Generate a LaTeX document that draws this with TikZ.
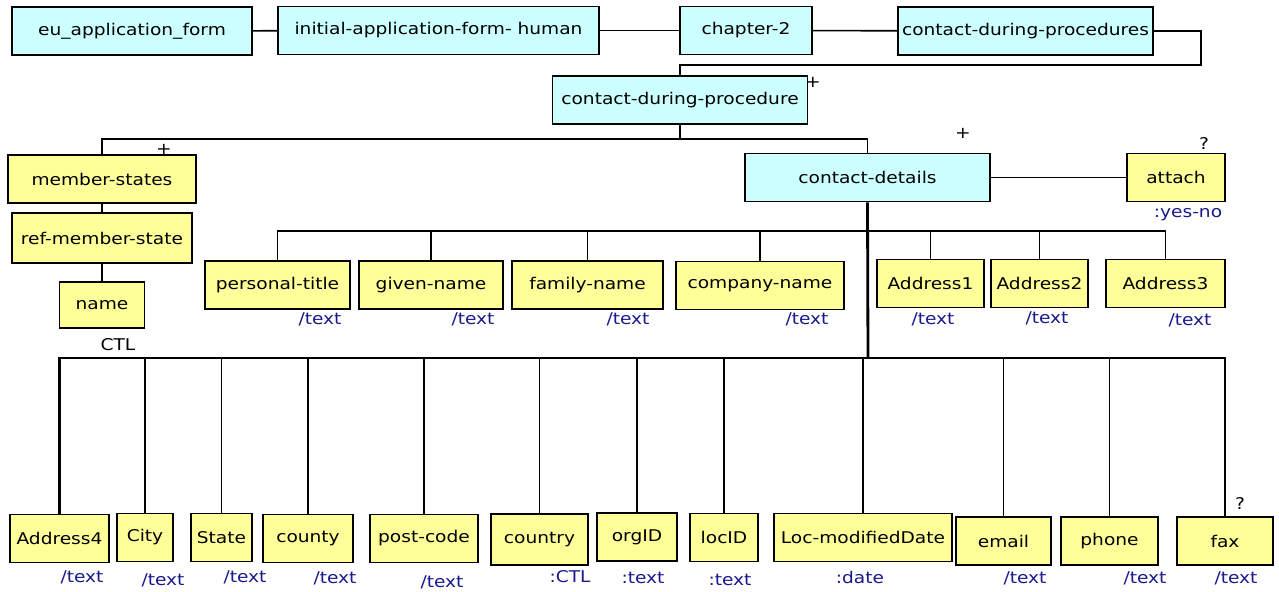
\documentclass[tikz,border=0pt]{standalone}
\usepackage{fontspec}
\setmainfont{DejaVu Sans}[FakeStretch=1.15]
\usepackage{xcolor}
\usepackage{tikz}
\usetikzlibrary{positioning}
\definecolor{groupcyan}{HTML}{CCFFFF}
\definecolor{leafyellow}{HTML}{FFFF99}
\definecolor{typeblue}{RGB}{25,25,140}
\tikzset{
  elem/.style={draw, line width=1.1pt, inner sep=0pt, minimum height=0.96cm,
    align=center, font=\fontsize{9.2}{10}\selectfont},
  group/.style={elem, fill=groupcyan},
  leaf/.style={elem, fill=leafyellow},
  bw/.style={minimum width=#1*0.02cm},
  dtype/.style={inner sep=0pt, text=typeblue, font=\fontsize{9.2}{10}\selectfont},
  occur/.style={inner sep=0pt, font=\fontsize{9.2}{10}\selectfont},
  link/.style={line width=0.9pt},
  trunk/.style={line width=1.6pt}
}

\begin{document}
\begin{tikzpicture}[x=0.02cm, y=-0.02cm]
    \useasboundingbox (0,0) rectangle (1279,592);
    % top chain
    \node[group, bw=240] (euform) at (132,31) {eu\_application\_form};
    \node[group, bw=321] (initial) at (438.5,30.5) {initial-application-form- human};
    \node[group, bw=132] (chapter) at (746,30.5) {chapter-2};
    \node[group, bw=255] (procs) at (1025.5,31) {contact-during-procedures};
    \node[group, bw=255] (proc) at (680,100) {contact-during-procedure};
    \node[occur] (proc-occ) at (813,82) {+};
    % second level
    \node[leaf, bw=188] (mstates) at (102,179) {member-states};
    \node[occur] (mstates-occ) at (164,149) {+};
    \node[leaf, bw=180, minimum height=1cm] (refstate) at (102,238) {ref-member-state};
    \node[leaf, bw=85, minimum height=0.92cm] (name) at (102,305) {name};
    \node[occur] (name-type) at (118,345) {CTL};
    \node[group, bw=245] (details) at (867.5,177.5) {contact-details};
    \node[occur] (details-occ) at (963,133) {+};
    \node[leaf, bw=98] (attach) at (1176,177.5) {attach};
    \node[occur] (attach-occ) at (1204,143) {?};
    \node[dtype] (attach-type) at (1188,215) {:yes-no};
    % middle row
    \node[leaf, bw=145] (ptitle) at (277.5,285) {personal-title};
    \node[leaf, bw=144] (gname) at (431,285) {given-name};
    \node[leaf, bw=151] (fname) at (587.5,285) {family-name};
    \node[leaf, bw=168] (cname) at (760,285.5) {company-name};
    \node[leaf, bw=107] (addr1) at (930.5,283.5) {Address1};
    \node[leaf, bw=97] (addr2) at (1039.5,283.5) {Address2};
    \node[leaf, bw=119] (addr3) at (1165.5,283.5) {Address3};
    \node[dtype] (ptitle-type) at (320,319) {/text};
    \node[dtype] (gname-type) at (473,319) {/text};
    \node[dtype] (fname-type) at (628,319) {/text};
    \node[dtype] (cname-type) at (807,319) {/text};
    \node[dtype] (addr1-type) at (933,319) {/text};
    \node[dtype] (addr2-type) at (1047,318) {/text};
    \node[dtype] (addr3-type) at (1190,320) {/text};
    % bottom row
    \node[leaf, bw=99] (addr4) at (59.5,538.5) {Address4};
    \node[leaf, bw=56] (city) at (145,537.5) {City};
    \node[leaf, bw=61] (state) at (221.5,537.5) {State};
    \node[leaf, bw=90] (county) at (308,538.5) {county};
    \node[leaf, bw=108] (pcode) at (424,538.5) {post-code};
    \node[leaf, bw=97, minimum height=1.02cm] (country) at (539.5,539.5) {country};
    \node[leaf, bw=80] (orgid) at (637,537) {orgID};
    \node[leaf, bw=68] (locid) at (724,537.5) {locID};
    \node[leaf, bw=178] (lmdate) at (863,537.5) {Loc-modifiedDate};
    \node[leaf, bw=95] (email) at (1003.5,541) {email};
    \node[leaf, bw=97] (phone) at (1109.5,541) {phone};
    \node[leaf, bw=96] (fax) at (1225,541) {fax};
    \node[occur] (fax-occ) at (1240,503) {?};
    \node[dtype] (addr4-type) at (82,577) {/text};
    \node[dtype] (city-type) at (163,580) {/text};
    \node[dtype] (state-type) at (245,577) {/text};
    \node[dtype] (county-type) at (335,578) {/text};
    \node[dtype] (pcode-type) at (442,582) {/text};
    \node[dtype] (country-type) at (570,577) {:CTL};
    \node[dtype] (orgid-type) at (643,578) {:text};
    \node[dtype] (locid-type) at (730,580) {:text};
    \node[dtype] (lmdate-type) at (860,577) {:date};
    \node[dtype] (email-type) at (1025,578) {/text};
    \node[dtype] (phone-type) at (1145,578) {/text};
    \node[dtype] (fax-type) at (1236,578) {/text};
    % junctions
    \coordinate (wrap) at (1201,65);
    \coordinate (split) at (680,139);
    \coordinate (busmid) at (868,231);
    \coordinate (buslow) at (868,358);
    % connectors
    \draw[link] (euform) -- (initial);
    \draw[link] (initial) -- (chapter);
    \draw[link] (chapter) -- (procs);
    \draw[link] (procs.east) -| (wrap) -| (proc.north);
    \draw[link] (proc.south) -- (split);
    \draw[link] (split) -| (mstates.north);
    \draw[link] (split) -| (details.north);
    \draw[link] (mstates) -- (refstate);
    \draw[link] (refstate) -- (name);
    \draw[link] (details) -- (attach);
    \draw[trunk] (details.south) -- (buslow);
    \draw[link] (busmid) -| (ptitle.north);
    \draw[link] (busmid) -| (gname.north);
    \draw[link] (busmid) -| (fname.north);
    \draw[link] (busmid) -| (cname.north);
    \draw[link] (busmid) -| (addr1.north);
    \draw[link] (busmid) -| (addr2.north);
    \draw[link] (busmid) -| (addr3.north);
    \draw[trunk] (buslow) -| (addr4.north);
    \draw[link] (buslow) -| (city.north);
    \draw[link] (buslow) -| (state.north);
    \draw[link] (buslow) -| (county.north);
    \draw[link] (buslow) -| (pcode.north);
    \draw[link] (buslow) -| (country.north);
    \draw[link] (buslow) -| (orgid.north);
    \draw[link] (buslow) -| (locid.north);
    \draw[link] (buslow) -| (lmdate.north);
    \draw[trunk] (buslow) -| (fax.north);
    \draw[link] (buslow) -| (email.north);
    \draw[link] (buslow) -| (phone.north);
  \end{tikzpicture}
\end{document}
